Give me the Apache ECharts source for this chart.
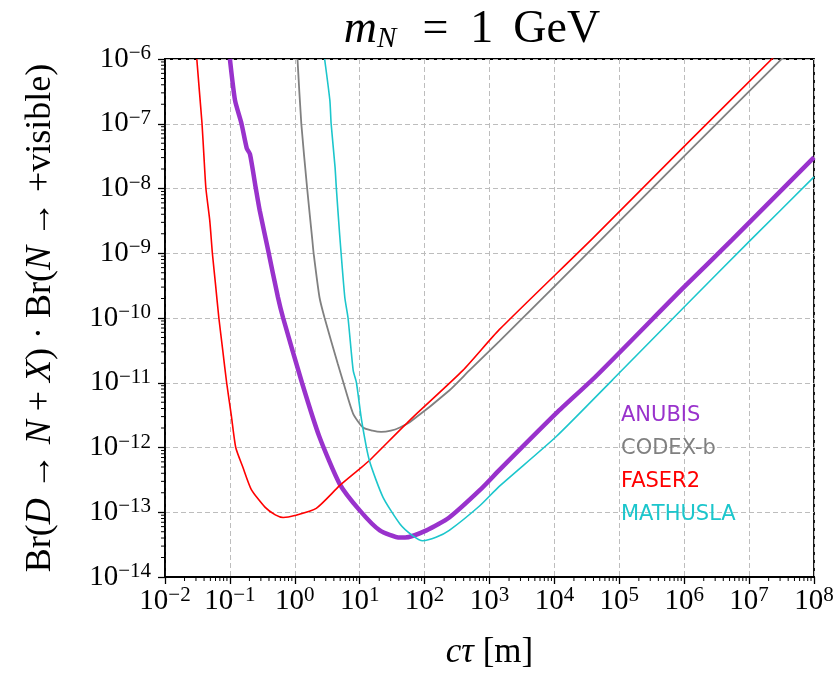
<!DOCTYPE html>
<html>
<head>
<meta charset="utf-8">
<script src="https://cdn.jsdelivr.net/npm/echarts@6/dist/echarts.min.js"></script>
<style>
    html, body { margin: 0; padding: 0; background: #fff; }
    #chart { width: 839px; height: 679px; }
</style>
</head>
<body>
<div id="chart"></div>
<script>
/**
 * 数据
 */
var seriesNames = ['ANUBIS', 'CODEX-b', 'FASER2', 'MATHUSLA'];
var seriesColors = ['#9932cc', '#808080', '#ff0000', '#1cc6cc'];
var seriesWidths = [4.5, 1.8, 1.6, 1.6];

var anubisCtau = [0.100, 0.120, 0.151, 0.182, 0.204, 0.251, 0.288, 0.389, 0.550, 0.661, 1.29, 2.40, 4.90, 10, 20.4, 41.7, 50.1, 107, 240, 708, 1413, 10700, 43700, 1e6, 5.5e6, 1e8];
var anubisBr = [1e-6, 2.29e-7, 1e-7, 4.17e-8, 3.39e-8, 1e-8, 4.57e-9, 1.1e-9, 2.09e-10, 1e-10, 1e-11, 1.45e-12, 2.75e-13, 1.07e-13, 5.25e-14, 4.07e-14, 4.07e-14, 5.25e-14, 8.3e-14, 2.19e-13, 4.47e-13, 3.39e-12, 1.26e-11, 3.02e-10, 1.62e-9, 3.02e-8];

var codexCtau = [1.10, 1.26, 1.55, 1.86, 1.95, 2.40, 2.88, 4.57, 5.62, 7.94, 11.2, 15.8, 21.4, 30.2, 41.7, 58.9, 240, 490, 1413, 52500, 1e6, 3.55e7];
var codexBr = [1e-6, 1e-7, 1e-8, 1.62e-9, 1e-9, 2.09e-10, 1e-10, 2.0e-11, 1e-11, 3.31e-12, 2.04e-12, 1.82e-12, 1.74e-12, 1.82e-12, 2.04e-12, 2.45e-12, 7.6e-12, 1.55e-11, 4.37e-11, 1.62e-9, 3.16e-8, 1.12e-6];

var faserCtau = [0.0309, 0.0339, 0.0372, 0.0398, 0.0427, 0.049, 0.0537, 0.0603, 0.0676, 0.0776, 0.0891, 0.105, 0.123, 0.158, 0.214, 0.347, 0.501, 0.661, 1.0, 2.14, 4.9, 10, 14.1, 58.9, 389, 1413, 38900, 1e6, 2.51e7];
var faserBr = [1e-6, 3.16e-7, 1e-7, 3.16e-8, 1e-8, 3.16e-9, 1e-9, 3.16e-10, 1e-10, 3.16e-11, 1e-11, 3.16e-12, 1e-12, 5.0e-13, 2.24e-13, 1.2e-13, 9.1e-14, 8.3e-14, 8.9e-14, 1.15e-13, 2.57e-13, 4.68e-13, 6.3e-13, 2.63e-12, 1.55e-11, 6.6e-11, 1.7e-9, 4.47e-8, 1.12e-6];

var mathuslaCtau = [2.88, 3.47, 3.63, 4.17, 4.37, 4.90, 5.89, 6.61, 7.94, 8.91, 10.7, 14.1, 22.9, 41.7, 64.6, 93.3, 150, 240, 708, 1413, 10700, 79400, 1e6, 1.07e7, 1e8];
var mathuslaBr = [1e-6, 2.29e-7, 1e-7, 2.14e-8, 1e-8, 2.0e-9, 2.09e-10, 1e-10, 1.55e-11, 1e-11, 2.63e-12, 6.3e-13, 1.70e-13, 6.6e-14, 4.4e-14, 3.63e-14, 4.1e-14, 5.25e-14, 1.26e-13, 2.51e-13, 1.48e-12, 1.12e-11, 1.48e-10, 1.62e-9, 1.51e-8];

var xMin = 1e-2, xMax = 1e8;
var yMin = 1e-14, yMax = 1e-6;

/**
 * 页面加载完成后渲染
 */
window.onload = function () {
    var chart = echarts.init(document.getElementById('chart'));
    var serif = '"Liberation Serif", "DejaVu Serif", serif';

    // 合并 x/y 数组
    function zip(xs, ys) {
        var out = [];
        for (var i = 0; i < xs.length; i++) {
            out.push([xs[i], ys[i]]);
        }
        return out;
    }
    var curves = [zip(anubisCtau, anubisBr), zip(codexCtau, codexBr), zip(faserCtau, faserBr), zip(mathuslaCtau, mathuslaBr)];

    // 对数轴的次刻度位置 (2..9 x 10^n)
    var xMinor = [], yMinor = [];
    for (var n = -2; n < 8; n++) {
        for (var k = 2; k < 10; k++) xMinor.push([k * Math.pow(10, n), yMin]);
    }
    for (var m = -14; m < -6; m++) {
        for (var j = 2; j < 10; j++) yMinor.push([xMin, j * Math.pow(10, m)]);
    }

    // 刻度标签 10^n
    function expLabel(v) {
        var e = Math.round(Math.log10(v));
        var s = e < 0 ? '\u2212' + (-e) : '' + e;
        return '{b|10}{e|' + s + '}';
    }
    var labelRich = {
        b: {fontFamily: serif, fontSize: 29, color: '#000', lineHeight: 32},
        e: {fontFamily: serif, fontSize: 21, color: '#000', lineHeight: 20, verticalAlign: 'top'}
    };
    var nameRich = {
        n: {fontFamily: serif, fontSize: 36, color: '#000'},
        i: {fontFamily: serif, fontSize: 36, fontStyle: 'italic', color: '#000'}
    };
    var xNameRich = {
        n: {fontFamily: serif, fontSize: 35, color: '#000'},
        i: {fontFamily: serif, fontSize: 35, fontStyle: 'italic', color: '#000'}
    };

    var series = [];
    for (var s = 0; s < curves.length; s++) {
        series.push({
            name: seriesNames[s],
            type: 'line',
            data: curves[s],
            showSymbol: false,
            symbol: 'none',
            smooth: 0.2,
            lineStyle: {color: seriesColors[s], width: seriesWidths[s]},
            itemStyle: {color: seriesColors[s]},
            z: 3 + s
        });
    }
    // 次刻度
    series.push({
        type: 'custom',
        data: xMinor,
        silent: true,
        clip: false,
        z: 10,
        renderItem: function (params, api) {
            var p = api.coord([api.value(0), api.value(1)]);
            return {type: 'line', shape: {x1: p[0], y1: p[1], x2: p[0], y2: p[1] + 4}, style: {stroke: '#000', lineWidth: 1}};
        }
    });
    series.push({
        type: 'custom',
        data: yMinor,
        silent: true,
        clip: false,
        z: 10,
        renderItem: function (params, api) {
            var p = api.coord([api.value(0), api.value(1)]);
            return {type: 'line', shape: {x1: p[0], y1: p[1], x2: p[0] - 4, y2: p[1]}, style: {stroke: '#000', lineWidth: 1}};
        }
    });

    var legendData = [];
    for (var q = 0; q < seriesNames.length; q++) {
        legendData.push({name: seriesNames[q], icon: 'none', textStyle: {color: seriesColors[q]}});
    }

    var option = {
        animation: false,
        backgroundColor: '#fff',
        grid: {left: 165, top: 59, width: 649, height: 518, show: true, borderColor: '#000', borderWidth: 1.8, backgroundColor: 'transparent'},
        graphic: [{
            type: 'text',
            x: 472,
            y: 30,
            style: {
                text: '{i|m}{s|N}{o|=}{n|1}{g|GeV}',
                textAlign: 'center',
                textVerticalAlign: 'middle',
                rich: {
                    i: {fontFamily: serif, fontSize: 46, fontStyle: 'italic', color: '#000', lineHeight: 48},
                    s: {fontFamily: serif, fontSize: 29, fontStyle: 'italic', color: '#000', lineHeight: 29, verticalAlign: 'bottom', padding: [0, 4, 0, 0]},
                    o: {fontFamily: serif, fontSize: 46, color: '#000', lineHeight: 48, padding: [0, 22, 0, 22]},
                    n: {fontFamily: serif, fontSize: 46, color: '#000', lineHeight: 48},
                    g: {fontFamily: serif, fontSize: 46, color: '#000', lineHeight: 48, padding: [0, 0, 0, 20]}
                }
            }
        }],
        legend: {
            orient: 'vertical',
            left: 611,
            top: 394,
            itemWidth: 0,
            itemHeight: 0,
            itemGap: 0,
            selectedMode: false,
            textStyle: {fontFamily: '"DejaVu Sans", sans-serif', fontSize: 21, lineHeight: 33},
            data: legendData
        },
        xAxis: {
            type: 'log',
            logBase: 10,
            min: xMin,
            max: xMax,
            interval: 1,
            name: '{i|c\u03c4}{n| [m]}',
            nameLocation: 'middle',
            nameGap: 58,
            nameTextStyle: {rich: xNameRich},
            axisLine: {show: true, lineStyle: {color: '#000', width: 1.8}},
            axisTick: {show: true, length: 7, lineStyle: {color: '#000', width: 1.3}},
            axisLabel: {formatter: expLabel, rich: labelRich, margin: 8},
            splitLine: {show: true, lineStyle: {color: '#bdbdbd', type: [5, 3], width: 1}}
        },
        yAxis: {
            type: 'log',
            logBase: 10,
            min: yMin,
            max: yMax,
            interval: 1,
            name: '{n|Br(}{i|D}{n| \u2192 }{i|N}{n| + }{i|X}{n|) \u00b7 Br(}{i|N}{n| \u2192 +visible)}',
            nameLocation: 'middle',
            nameGap: 106,
            nameTextStyle: {rich: nameRich},
            axisLine: {show: true, lineStyle: {color: '#000', width: 1.8}},
            axisTick: {show: true, length: 7, lineStyle: {color: '#000', width: 1.3}},
            axisLabel: {formatter: expLabel, rich: labelRich, margin: 14},
            splitLine: {show: true, lineStyle: {color: '#bdbdbd', type: [5, 3], width: 1}}
        },
        series: series
    };
    chart.setOption(option);
};
</script>
</body>
</html>
